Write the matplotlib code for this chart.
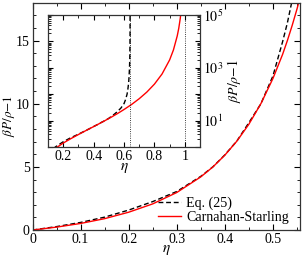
import matplotlib
matplotlib.use("Agg")
import matplotlib.pyplot as plt
from matplotlib.ticker import MultipleLocator, LogLocator, FuncFormatter, NullFormatter
import numpy as np

plt.rcParams['font.family'] = ['Liberation Serif', 'DejaVu Serif']
plt.rcParams['mathtext.fontset'] = 'stix'

# Eq. (25) curve (black dashed)
eta_eq25 = [0, 0.05, 0.1, 0.15, 0.2, 0.25, 0.3, 0.35, 0.375, 0.4, 0.425, 0.45, 0.475,
            0.5, 0.52, 0.53, 0.54, 0.55, 0.56, 0.58, 0.6, 0.61, 0.62, 0.625, 0.63,
            0.633, 0.636, 0.638, 0.639, 0.6395, 0.6399]
z_eq25 = [0, 0.27, 0.6, 1.02, 1.58, 2.25, 3.05, 4.25, 5.0, 5.95, 7.05, 8.5, 10.0,
          12.2, 14.9, 16.4, 18.2, 20.4, 23, 30, 44, 62, 100, 150, 260,
          450, 1000, 2500, 7000, 2.0e4, 3e5]

# Carnahan-Starling curve (red solid)
eta_cs = [0, 0.05, 0.1, 0.15, 0.2, 0.25, 0.3, 0.35, 0.375, 0.4, 0.425, 0.45, 0.475,
          0.5, 0.52, 0.53, 0.54, 0.55, 0.56, 0.6, 0.65, 0.7, 0.75, 0.8, 0.85,
          0.9, 0.925, 0.95, 0.96, 0.97, 0.98]
z_cs = [0, 0.23, 0.52, 0.90, 1.41, 2.07, 2.97, 4.21, 4.99, 5.93, 7.04, 8.38, 10.01,
        12.0, 13.9, 15.0, 16.2, 17.5, 18.9, 26.3, 40.9, 67.4, 120, 240, 579,
        1980, 4710, 1.6e4, 3.1e4, 7.4e4, 2.5e5]

# reference lines in the inset
eta_marks = [0.64, 1.0]

labels = ['Eq. (25)', 'Carnahan-Starling']
ylab = r'$\beta P/\rho{-}1$'

fig = plt.figure(figsize=(3.04, 2.57), dpi=100)
ax = fig.add_axes([0.107, 0.105, 0.881, 0.8845])

ax.plot(eta_eq25, z_eq25, color='k', lw=1.0, dashes=(3.5, 2), label=labels[0])
ax.plot(eta_cs, z_cs, color='red', lw=1.0, label=labels[1])
ax.set_xlim(0, 0.557)
ax.set_ylim(0, 18)
ax.xaxis.set_major_locator(MultipleLocator(0.1))
ax.xaxis.set_minor_locator(MultipleLocator(0.05))
ax.yaxis.set_major_locator(MultipleLocator(5))
ax.yaxis.set_minor_locator(MultipleLocator(1))
ax.xaxis.set_major_formatter(FuncFormatter(lambda v, p: '0' if abs(v) < 1e-9 else f'{v:.1f}'))
ax.tick_params(which='both', direction='in', top=True, right=True, labelsize=10, pad=2)
ax.tick_params(which='major', length=4)
ax.tick_params(which='minor', length=2)
ax.set_xlabel(r'$\eta$', fontsize=11, labelpad=-2)
ax.set_ylabel(ylab, fontsize=9.5, labelpad=-1)
for s in ax.spines.values():
    s.set_linewidth(0.9)
    s.set_color('#333333')
leg = ax.legend(loc='lower right', frameon=False, fontsize=10.1, handlelength=1.6,
                handletextpad=0.4, borderaxespad=0.3, labelspacing=0.05,
                bbox_to_anchor=(0.995, -0.015))

# inset
axi = fig.add_axes([0.158, 0.428, 0.5, 0.514])
axi.plot(eta_eq25, z_eq25, color='k', lw=1.0, dashes=(3.5, 2))
axi.plot(eta_cs, z_cs, color='red', lw=1.0)
for m in eta_marks:
    axi.axvline(m, color='k', lw=0.6, ls=':')
axi.set_yscale('log')
axi.set_xlim(0.1, 1.1)
axi.set_ylim(1, 1e5)
axi.xaxis.set_major_locator(MultipleLocator(0.2))
axi.xaxis.set_minor_locator(MultipleLocator(0.1))
axi.xaxis.set_major_formatter(FuncFormatter(lambda v, p: '1' if abs(v - 1) < 1e-9 else f'{v:.1f}'))
axi.yaxis.set_major_locator(LogLocator(base=10, numticks=10))
axi.yaxis.set_minor_locator(LogLocator(base=10, subs=np.arange(2, 10), numticks=20))
axi.yaxis.set_minor_formatter(NullFormatter())

def odd_dec(v, p):
    e = int(round(np.log10(v)))
    return rf'$10^{{{e}}}$' if e % 2 == 1 else ''
axi.yaxis.set_major_formatter(FuncFormatter(odd_dec))
axi.yaxis.tick_right()
axi.yaxis.set_label_position('right')
axi.tick_params(which='both', direction='in', top=True, left=True, right=True,
                labelsize=10, pad=2)
axi.tick_params(which='major', length=3.5)
axi.tick_params(which='minor', length=2)
axi.set_xlabel(r'$\eta$', fontsize=11, labelpad=-1)
axi.set_ylabel(ylab, fontsize=10, labelpad=1)
for s in axi.spines.values():
    s.set_linewidth(0.9)
    s.set_color('#333333')

fig.savefig('out.png', dpi=100)
